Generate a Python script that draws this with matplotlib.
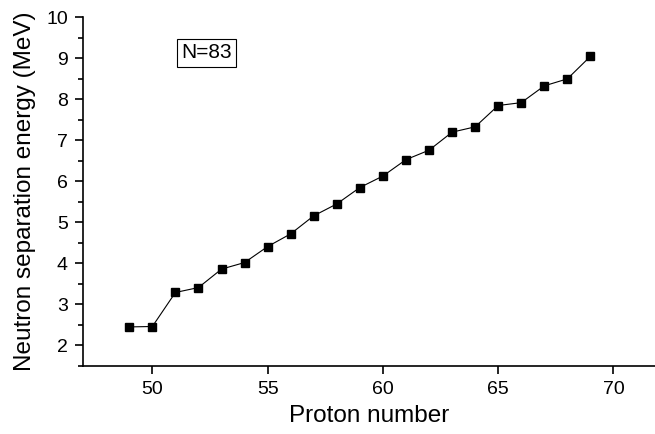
import matplotlib.pyplot as plt
from matplotlib.ticker import MultipleLocator

plt.rcParams['font.family'] = ['Liberation Sans', 'DejaVu Sans']

proton = [49, 50, 51, 52, 53, 54, 55, 56, 57, 58, 59, 60, 61, 62, 63, 64, 65, 66, 67, 68, 69]
s_n = [2.45, 2.46, 3.29, 3.41, 3.86, 4.02, 4.41, 4.72, 5.16, 5.45, 5.85, 6.13,
       6.53, 6.76, 7.20, 7.33, 7.85, 7.92, 8.33, 8.50, 9.05]

fig = plt.figure(figsize=(6.55, 4.34), dpi=100)
ax = fig.add_axes([0.127, 0.157, 0.873, 0.803])

ax.plot(proton, s_n, color='black', lw=0.8, marker='s', markersize=6,
        markerfacecolor='black', markeredgecolor='black')

ax.set_xlim(47, 71.8)
ax.set_ylim(1.5, 10)
ax.xaxis.set_major_locator(MultipleLocator(5))
ax.yaxis.set_major_locator(MultipleLocator(1))
ax.yaxis.set_minor_locator(MultipleLocator(0.5))

for s in ['top', 'right']:
    ax.spines[s].set_visible(False)
for s in ['left', 'bottom']:
    ax.spines[s].set_linewidth(1.2)

ax.tick_params(axis='both', which='major', direction='out', length=6, width=1.2,
               labelsize=14, pad=5)
ax.tick_params(axis='y', which='minor', direction='out', length=3.5, width=1.2)

ax.set_xlabel('Proton number', fontsize=17.5, labelpad=5)
ax.set_ylabel('Neutron separation energy (MeV)', fontsize=17.5, labelpad=7)

ax.text(0.215, 0.898, 'N=83', transform=ax.transAxes, fontsize=15,
        ha='center', va='center',
        bbox=dict(boxstyle='square,pad=0.2', facecolor='white', edgecolor='black', lw=0.8))

fig.savefig('out.png', dpi=100)
